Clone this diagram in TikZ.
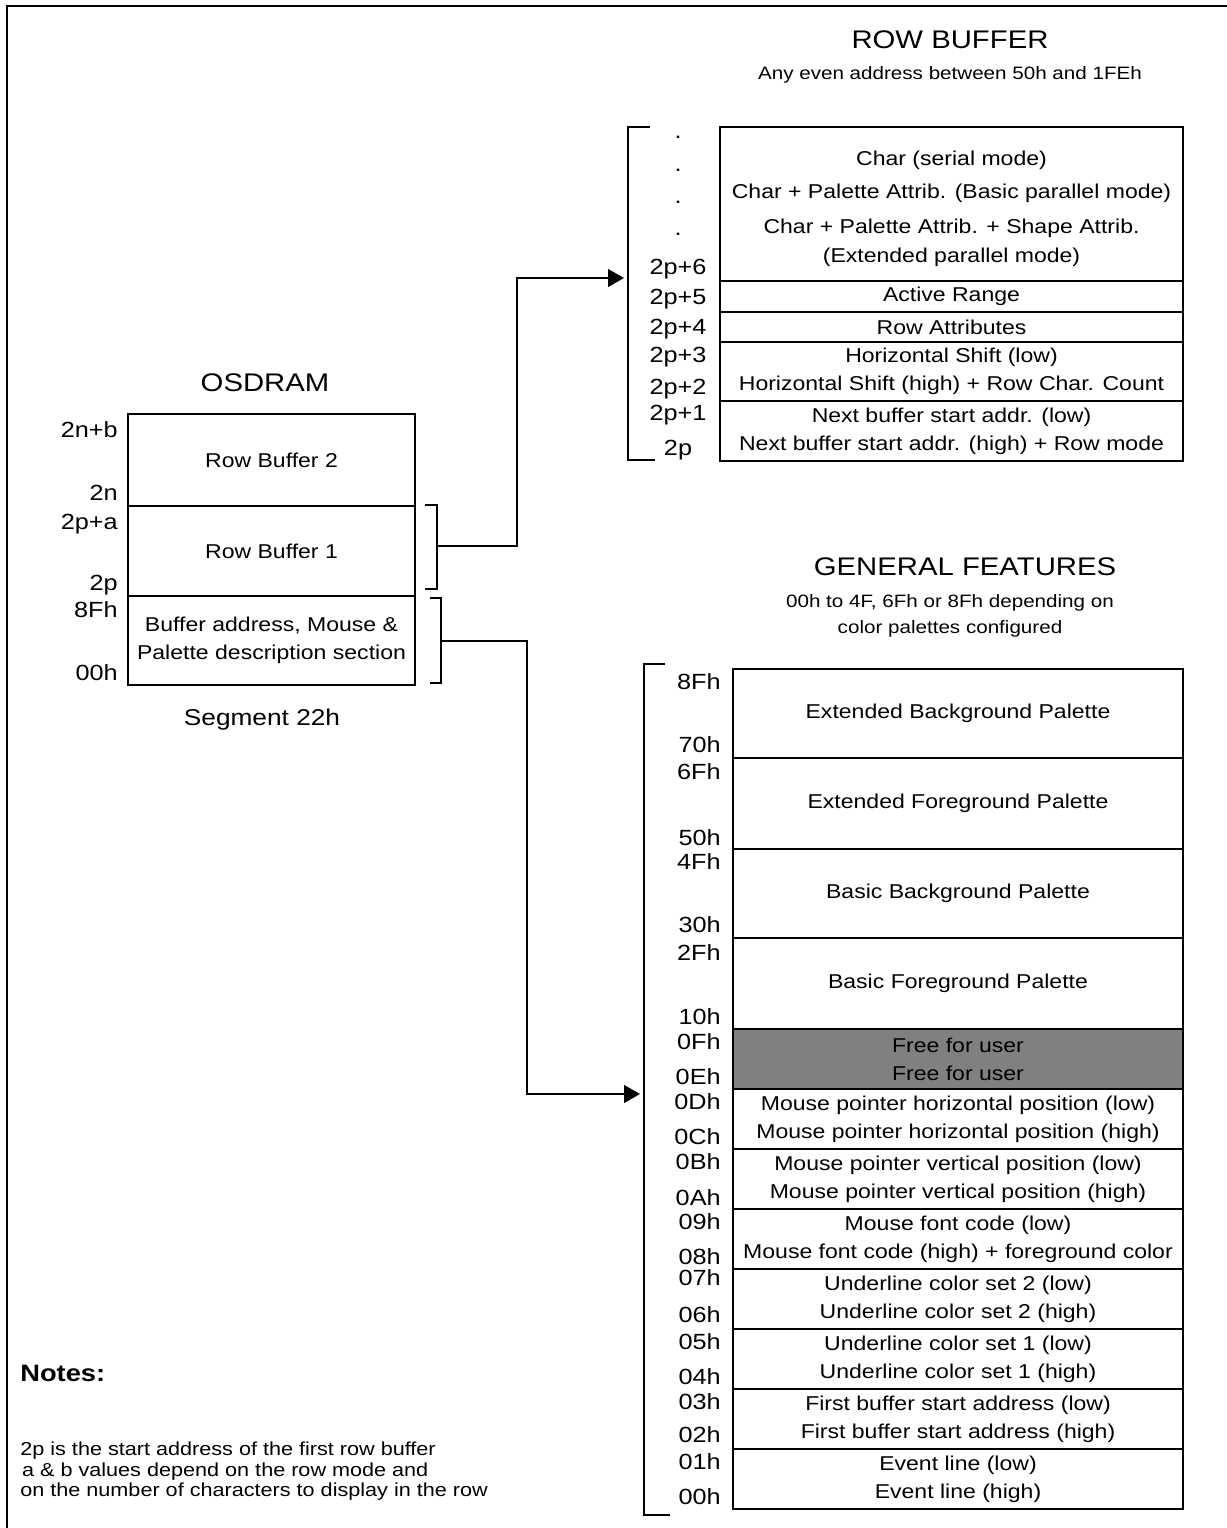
\documentclass[tikz,border=0pt]{standalone}
\usepackage{fontspec}
\setmainfont{Liberation Sans}[FakeStretch=1.15]
\usepackage{tikz}
\usetikzlibrary{arrows.meta,positioning,calc}
\definecolor{freegray}{HTML}{808080}
\newcommand{\bodyfont}{\fontsize{11.4}{15.9}\selectfont}
\newcommand{\addrfont}{\fontsize{12.5}{14}\selectfont}
\newcommand{\headfont}{\fontsize{14.5}{17}\selectfont}
\newcommand{\subfont}{\fontsize{10.2}{14.7}\selectfont}

\begin{document}
\begin{tikzpicture}[>={Triangle[length=9pt,width=10pt]}, x=0.02cm, y=-0.02cm,
  cell/.style={draw, line width=1.1pt, inner sep=0pt, align=center, font=\bodyfont, anchor=north},
  addr/.style={anchor=east, inner sep=0pt, text depth=0pt, font=\addrfont},
  heading/.style={font=\headfont},
  brkline/.style={line width=1.1pt},
  conn/.style={->, line width=1.1pt}]
  \useasboundingbox (0,0) rectangle (1227,1528);
  % Frame
  \draw[line width=1.7pt] (7,1560) -- (7,6) -- (1260,6);

  % Row buffer side
  \node[heading] (rbtitle) at (950,40) {ROW BUFFER};
  \node[font=\subfont] (rbsub) at (950,75) {Any even address between 50h and 1FEh};

  \node[cell, minimum width=9.26cm, minimum height=3.08cm] (rbchar) at (951.5,126) {};
  \node[align=center, inner sep=0pt, font=\fontsize{11.4}{16.4}\selectfont] (rbchartext) at (951.5,209)
    {Char (serial mode)\\[2.3pt]Char + Palette Attrib. (Basic parallel mode)\\[3.4pt]Char + Palette Attrib. + Shape Attrib.\\(Extended parallel mode)};
  \node[cell, minimum width=9.26cm, minimum height=0.62cm] (rbrange) at (951.5,280) {Active Range};
  \node[cell, minimum width=9.26cm, minimum height=0.60cm] (rbattr) at (951.5,311) {Row Attributes};
  \node[cell, minimum width=9.26cm, minimum height=1.18cm] (rbshift) at (951.5,341)
    {Horizontal Shift (low)\\Horizontal Shift (high) + Row Char. Count};
  \node[cell, minimum width=9.26cm, minimum height=1.20cm] (rbnext) at (951.5,400)
    {Next buffer start addr. (low)\\Next buffer start addr. (high) + Row mode};

  \node[addr, anchor=center] (rbdot1) at (678,137) {.};
  \node[addr, anchor=center] (rbdot2) at (678,170) {.};
  \node[addr, anchor=center] (rbdot3) at (678,202) {.};
  \node[addr, anchor=center] (rbdot4) at (678,234) {.};
  \node[addr, anchor=center] (rb6) at (678,267) {2p+6};
  \node[addr, anchor=center] (rb5) at (678,297) {2p+5};
  \node[addr, anchor=center] (rb4) at (678,327) {2p+4};
  \node[addr, anchor=center] (rb3) at (678,355) {2p+3};
  \node[addr, anchor=center] (rb2) at (678,387) {2p+2};
  \node[addr, anchor=center] (rb1) at (678,413) {2p+1};
  \node[addr, anchor=center] (rb0) at (678,448) {2p};
  \draw[brkline] (650,127) -- (628,127) -- (628,460) -- (655,460);
  \coordinate (rbin) at (624,278);

  % OSDRAM side
  \node[heading] (ostitle) at (265,383) {OSDRAM};
  \node[cell, minimum width=5.74cm, minimum height=1.84cm] (osrb2) at (271.5,413) {Row Buffer 2};
  \node[cell, minimum width=5.74cm, minimum height=1.80cm] (osrb1) at (271.5,505) {Row Buffer 1};
  \node[cell, minimum width=5.74cm, minimum height=1.78cm] (osdesc) at (271.5,595)
    {Buffer address, Mouse \&\\Palette description section};
  \node[font=\fontsize{13}{15}\selectfont] (osseg) at (262,720) {Segment 22h};

  \node[addr] (os2nb) at (118,430) {2n+b};
  \node[addr] (os2n) at (118,493) {2n};
  \node[addr] (os2pa) at (118,522) {2p+a};
  \node[addr] (os2p) at (118,583) {2p};
  \node[addr] (os8f) at (118,610) {8Fh};
  \node[addr] (os00) at (118,673) {00h};

  \draw[brkline] (425,505) -- (437,505) -- (437,589) -- (425,589);
  \coordinate (rb1out) at (437,546);
  \draw[brkline] (430,598) -- (441,598) -- (441,683) -- (430,683);
  \coordinate (descout) at (441,641);

  % General features side
  \node[heading] (gftitle) at (965,567) {GENERAL FEATURES};
  \node[font=\subfont, align=center] (gfsub) at (950,616)
    {00h to 4F, 6Fh or 8Fh depending on\\color palettes configured};

  \node[cell, minimum width=9cm, minimum height=1.78cm] (gfextbg) at (958,668) {Extended Background Palette};
  \node[cell, minimum width=9cm, minimum height=1.82cm] (gfextfg) at (958,757) {Extended Foreground Palette};
  \node[cell, minimum width=9cm, minimum height=1.78cm] (gfbasbg) at (958,848) {Basic Background Palette};
  \node[cell, minimum width=9cm, minimum height=1.82cm] (gfbasfg) at (958,937) {Basic Foreground Palette};
  \node[cell, fill=freegray, minimum width=9cm, minimum height=1.2cm] (gffree) at (958,1028)
    {Free for user\\Free for user};
  \node[cell, minimum width=9cm, minimum height=1.2cm] (gfmh) at (958,1088)
    {Mouse pointer horizontal position (low)\\Mouse pointer horizontal position (high)};
  \node[cell, minimum width=9cm, minimum height=1.2cm] (gfmv) at (958,1148)
    {Mouse pointer vertical position (low)\\Mouse pointer vertical position (high)};
  \node[cell, minimum width=9cm, minimum height=1.2cm] (gffont) at (958,1208)
    {Mouse font code (low)\\Mouse font code (high) + foreground color};
  \node[cell, minimum width=9cm, minimum height=1.2cm] (gful2) at (958,1268)
    {Underline color set 2 (low)\\Underline color set 2 (high)};
  \node[cell, minimum width=9cm, minimum height=1.2cm] (gful1) at (958,1328)
    {Underline color set 1 (low)\\Underline color set 1 (high)};
  \node[cell, minimum width=9cm, minimum height=1.2cm] (gffirst) at (958,1388)
    {First buffer start address (low)\\First buffer start address (high)};
  \node[cell, minimum width=9cm, minimum height=1.2cm] (gfevent) at (958,1448)
    {Event line (low)\\Event line (high)};

  \node[addr] (gf8f) at (721,682) {8Fh};
  \node[addr] (gf70) at (721,745) {70h};
  \node[addr] (gf6f) at (721,772) {6Fh};
  \node[addr] (gf50) at (721,838) {50h};
  \node[addr] (gf4f) at (721,862) {4Fh};
  \node[addr] (gf30) at (721,925) {30h};
  \node[addr] (gf2f) at (721,953) {2Fh};
  \node[addr] (gf10) at (721,1017) {10h};
  \node[addr] (gf0f) at (721,1042) {0Fh};
  \node[addr] (gf0e) at (721,1077) {0Eh};
  \node[addr] (gf0d) at (721,1102) {0Dh};
  \node[addr] (gf0c) at (721,1137) {0Ch};
  \node[addr] (gf0b) at (721,1162) {0Bh};
  \node[addr] (gf0a) at (721,1198) {0Ah};
  \node[addr] (gf09) at (721,1222) {09h};
  \node[addr] (gf08) at (721,1257) {08h};
  \node[addr] (gf07) at (721,1278) {07h};
  \node[addr] (gf06) at (721,1315) {06h};
  \node[addr] (gf05) at (721,1342) {05h};
  \node[addr] (gf04) at (721,1377) {04h};
  \node[addr] (gf03) at (721,1402) {03h};
  \node[addr] (gf02) at (721,1435) {02h};
  \node[addr] (gf01) at (721,1462) {01h};
  \node[addr] (gf00) at (721,1497) {00h};
  \draw[brkline] (665,664) -- (644,664) -- (644,1515) -- (670,1515);
  \coordinate (gfin) at (640,1094);

  % Links
  \draw[conn] (rb1out) -- (517,546) |- (rbin);
  \draw[conn] (descout) -- (527,641) |- (gfin);

  % Notes
  \node[anchor=west, inner sep=0pt, font=\fontsize{13.5}{15}\selectfont\bfseries] (notes) at (20,1373) {Notes:};
  \node[anchor=north west, align=left, inner sep=0pt, font=\fontsize{10.7}{11.4}\selectfont] (notetext) at (20,1442)
    {2p is the start address of the first row buffer\\
     \hspace{1pt}a \& b values depend on the row mode and\\
     on the number of characters to display in the row};
\end{tikzpicture}
\end{document}
